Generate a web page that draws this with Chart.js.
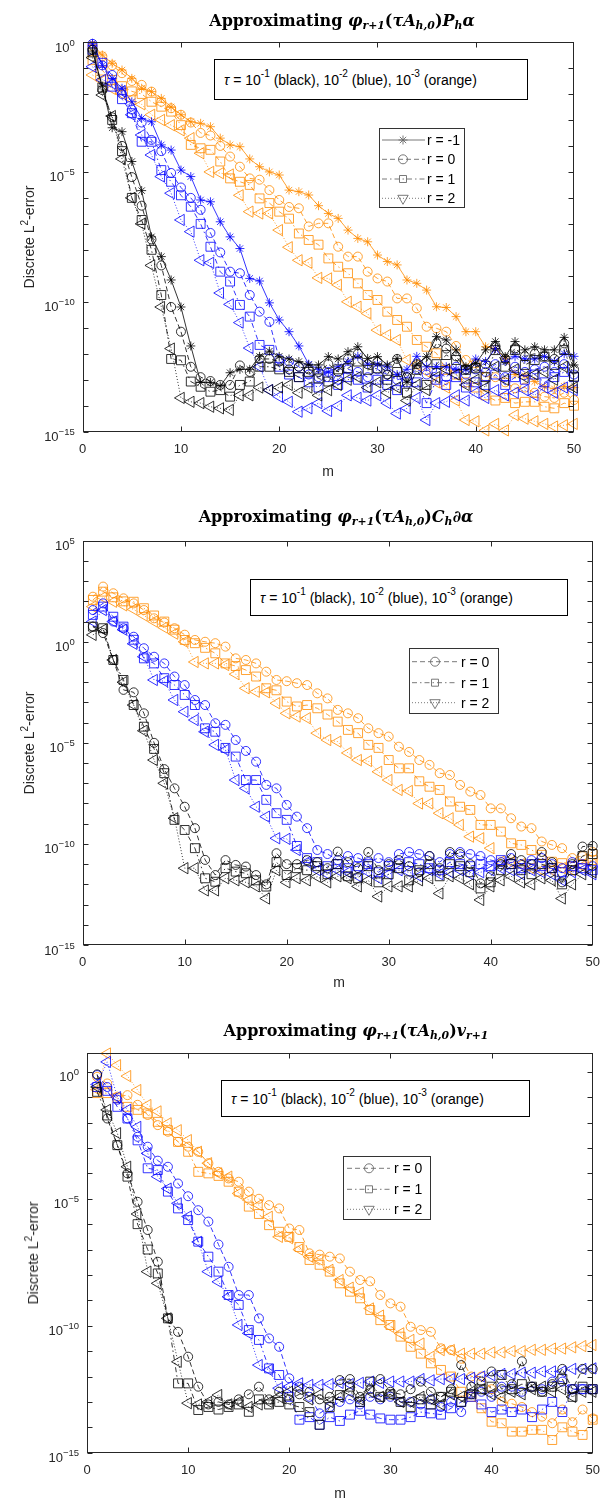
<!DOCTYPE html>
<html>
<head>
<meta charset="utf-8">
<script src="https://cdn.jsdelivr.net/npm/chart.js@4.4.1/dist/chart.umd.min.js"></script>
<style>
  body { margin: 0; background: #fff; width: 600px; height: 1501px; position: relative; overflow: hidden;
         font-family: "Liberation Sans", Arial, sans-serif; color: #262626; }
  canvas { position: absolute; left: 0; }
  .ttl { position: absolute; width: 600px; text-align: center; white-space: nowrap; color: #000;
         font: bold 16px "DejaVu Serif", serif; line-height: 18px; }
  .ylab { position: absolute; font-size: 14px; white-space: nowrap; transform: translate(-50%, -50%) rotate(-90deg); }
  .xlab { position: absolute; font-size: 14px; transform: translate(-50%, -50%); }
  .note { position: absolute; box-sizing: border-box; border: 1px solid #000; background: #fff; color: #000;
          font-size: 14px; display: flex; align-items: center; padding-left: 9px; white-space: nowrap; }
  sup { font-size: 0.72em; vertical-align: 0; position: relative; top: -0.55em; line-height: 0; }
  sub { font-size: 0.68em; vertical-align: 0; position: relative; top: 0.3em; line-height: 0; }
</style>
</head>
<body>
<canvas id="c1" width="600" height="500" style="top:0"></canvas>
<canvas id="c2" width="600" height="500" style="top:500px"></canvas>
<canvas id="c3" width="600" height="501" style="top:1000px"></canvas>

<div class="ttl" style="top:12px;left:42px">Approximating <i>φ<sub>r+1</sub></i>(<i>τA<sub>h,0</sub></i>)<i>P<sub>h</sub>α</i></div>
<div class="ttl" style="top:508px;left:36px">Approximating <i>φ<sub>r+1</sub></i>(<i>τA<sub>h,0</sub></i>)<i>C<sub>h</sub>∂α</i></div>
<div class="ttl" style="top:1022px;left:56px">Approximating <i>φ<sub>r+1</sub></i>(<i>τA<sub>h,0</sub></i>)<i>v<sub>r+1</sub></i></div>

<div class="note" style="left:214px;top:59px;width:314px;height:41px"><i>τ</i>&nbsp;= 10<sup>-1</sup>&nbsp;(black), 10<sup>-2</sup>&nbsp;(blue), 10<sup>-3</sup>&nbsp;(orange)</div>
<div class="note" style="left:250px;top:579px;width:318px;height:37px"><i>τ</i>&nbsp;= 10<sup>-1</sup>&nbsp;(black), 10<sup>-2</sup>&nbsp;(blue), 10<sup>-3</sup>&nbsp;(orange)</div>
<div class="note" style="left:221px;top:1080px;width:309px;height:37px"><i>τ</i>&nbsp;= 10<sup>-1</sup>&nbsp;(black), 10<sup>-2</sup>&nbsp;(blue), 10<sup>-3</sup>&nbsp;(orange)</div>

<div class="ylab" style="left:29px;top:237px">Discrete L<sup>2</sup>-error</div>
<div class="ylab" style="left:29px;top:743px">Discrete L<sup>2</sup>-error</div>
<div class="ylab" style="left:33px;top:1253px">Discrete L<sup>2</sup>-error</div>

<div class="xlab" style="left:328px;top:471px">m</div>
<div class="xlab" style="left:339px;top:982px">m</div>
<div class="xlab" style="left:340px;top:1493px">m</div>

<script>
// x: number of Krylov steps m
const m = [1, 2, 3, 4, 5, 6, 7, 8, 9, 10, 11, 12, 13, 14, 15, 16, 17, 18, 19, 20,
           21, 22, 23, 24, 25, 26, 27, 28, 29, 30, 31, 32, 33, 34, 35, 36, 37, 38, 39, 40,
           41, 42, 43, 44, 45, 46, 47, 48, 49, 50];

// all series below are log10 of the discrete L2-error
// ===== panel 1 : P_h alpha =====
const p1_black_rm1 = [-0.35, -1.7, -3.3, -3.45, -4.6, -5.72, -7.5, -8.26, -9.16, -10.2,
  -11.7, -13.1, -13.1, -13.24, -12.73, -12.6, -12.6, -12.1, -11.9, -12.1,
  -12.2, -12.3, -12.43, -12.43, -12.11, -12.2, -11.92, -11.73, -12.18, -12.11,
  -12.43, -12.18, -13.1, -12.4, -12.11, -11.34, -11.47, -11.85, -12.5, -12.37,
  -11.85, -11.53, -12.11, -11.53, -11.85, -11.73, -11.85, -11.85, -11.37, -12.43];
const p1_black_r0 = [-0.3, -1.85, -2.9, -4.0, -5.2, -6.3, -7.6, -8.6, -10.2, -11.15,
  -12.5, -12.9, -13.05, -13.2, -13.2, -12.45, -12.7, -12.2, -12.2, -12.3,
  -12.6, -12.5, -12.6, -12.7, -12.4, -12.7, -12.2, -12.0, -12.4, -12.3,
  -12.8, -12.2, -12.9, -12.4, -12.3, -11.6, -11.8, -12.1, -12.6, -12.5,
  -12.4, -11.7, -12.2, -11.8, -12.1, -12.0, -12.1, -12.2, -11.6, -12.6];
const p1_black_r1 = [-0.4, -1.75, -3.0, -4.2, -6.0, -6.85, -8.0, -9.74, -12.2, -12.25,
  -13.07, -13.27, -13.46, -13.4, -13.65, -13.2, -13.07, -12.5, -12.5, -12.6,
  -12.7, -12.9, -12.7, -12.95, -13.07, -12.6, -12.56, -12.3, -12.62, -12.56,
  -13.0, -12.7, -13.5, -12.62, -13.2, -12.4, -12.05, -12.24, -12.62, -12.56,
  -12.9, -11.86, -12.5, -11.86, -12.43, -12.24, -12.11, -12.43, -11.86, -12.88];
const p1_black_r2 = [-0.6, -2.04, -2.85, -4.5, -6.0, -7.0, -8.6, -10.2, -11.8, -13.7,
  -13.85, -13.9, -14.04, -14.1, -14.16, -13.6, -13.6, -13.3, -13.4, -13.3,
  -13.2, -13.5, -13.3, -13.6, -13.4, -13.2, -13.0, -12.9, -13.3, -13.1,
  -13.5, -13.3, -13.8, -13.2, -13.4, -12.9, -12.6, -12.8, -13.2, -13.0,
  -13.3, -12.5, -13.0, -12.6, -12.9, -12.8, -12.7, -13.0, -12.5, -13.3];
const p1_blue_rm1 = [-0.05, -0.9, -1.4, -1.78, -2.3, -2.94, -3.07, -3.96, -4.16, -4.93,
  -5.18, -6.08, -6.15, -6.92, -7.5, -7.95, -9.1, -9.2, -10.04, -10.7,
  -11.15, -11.7, -12.4, -12.6, -12.7, -12.5, -12.3, -12.1, -12.4, -12.4,
  -12.5, -12.8, -12.6, -12.1, -12.5, -12.5, -12.5, -12.6, -12.6, -12.2,
  -12.3, -11.8, -12.3, -12.1, -12.2, -12.2, -12.1, -12.3, -12.0, -12.1];
const p1_blue_r0 = [-0.07, -0.9, -1.27, -2.0, -2.6, -3.1, -3.77, -4.2, -5.04, -5.6,
  -6.0, -6.46, -7.35, -8.1, -8.84, -8.9, -9.74, -10.38, -10.77, -12.2,
  -12.3, -12.5, -12.8, -12.9, -12.7, -13.0, -12.6, -12.7, -12.9, -12.6,
  -12.8, -13.0, -12.9, -12.6, -12.8, -12.7, -12.9, -12.5, -12.8, -12.6,
  -12.7, -12.4, -12.9, -12.5, -12.7, -12.6, -12.5, -12.7, -12.4, -12.8];
const p1_blue_r1 = [-0.3, -0.8, -1.72, -2.2, -2.74, -3.84, -3.84, -4.93, -5.38, -5.9,
  -6.34, -7.0, -7.88, -8.84, -9.22, -10.12, -10.57, -11.66, -11.85, -12.5,
  -12.8, -12.9, -13.1, -13.3, -12.9, -13.2, -12.9, -13.0, -13.3, -13.0,
  -13.2, -13.4, -13.1, -13.1, -13.9, -13.0, -13.2, -12.9, -13.3, -13.1,
  -13.2, -12.8, -13.2, -12.9, -13.0, -12.8, -13.1, -12.9, -12.7, -12.9];
const p1_blue_r2 = [-0.95, -1.46, -1.6, -1.9, -2.8, -3.58, -4.35, -5.18, -5.82, -6.85,
  -7.3, -8.4, -8.5, -9.66, -10.1, -10.8, -11.78, -12.5, -13.4, -13.65,
  -13.85, -14.23, -14.1, -13.9, -14.2, -14.0, -13.6, -13.7, -13.8, -13.6,
  -13.9, -14.3, -14.1, -13.7, -14.55, -13.9, -13.85, -13.6, -13.8, -13.5,
  -13.7, -13.4, -13.6, -13.5, -13.4, -13.6, -13.3, -13.5, -13.3, -13.4];
const p1_orange_rm1 = [-0.1, -0.5, -0.82, -1.08, -1.4, -1.78, -1.91, -2.17, -2.5, -2.8,
  -3.07, -3.13, -3.26, -3.7, -3.96, -4.03, -4.5, -4.8, -5.0, -5.12,
  -5.7, -5.76, -5.89, -6.3, -6.6, -6.79, -7.24, -7.56, -7.69, -8.2,
  -8.45, -8.58, -9.16, -9.29, -9.55, -10.19, -10.22, -10.57, -11.15, -11.15,
  -11.73, -11.8, -12.17, -12.8, -12.85, -13.07, -13.27, -13.35, -13.25, -13.3];
const p1_orange_r0 = [-0.15, -0.55, -0.9, -1.2, -1.5, -1.65, -1.91, -2.3, -2.55, -2.8,
  -3.1, -3.5, -3.6, -4.0, -4.41, -4.8, -5.25, -5.3, -5.7, -6.08,
  -6.35, -6.4, -7.1, -6.98, -6.98, -7.88, -8.26, -8.26, -8.84, -9.1,
  -9.22, -9.87, -9.87, -10.25, -10.96, -11.02, -11.15, -11.7, -12.24, -12.37,
  -12.88, -12.9, -13.1, -13.33, -13.3, -13.5, -13.65, -13.7, -13.5, -13.78];
const p1_orange_r1 = [-0.7, -1.1, -1.46, -1.7, -1.9, -2.0, -2.3, -2.49, -2.68, -3.2,
  -3.96, -4.09, -4.15, -4.6, -5.25, -5.38, -5.5, -6.02, -6.2, -6.53,
  -6.8, -7.37, -7.62, -7.8, -8.33, -8.65, -8.9, -9.29, -9.74, -9.93,
  -10.38, -10.7, -10.96, -11.47, -11.73, -11.98, -12.62, -12.8, -13.1, -13.3,
  -13.6, -13.8, -13.7, -13.9, -13.85, -13.85, -14.04, -14.1, -13.9, -14.0];
const p1_orange_r2 = [-1.27, -1.5, -1.8, -2.0, -2.2, -2.4, -2.8, -3.0, -3.2, -3.4,
  -3.7, -4.28, -5.0, -5.05, -5.1, -5.9, -6.53, -6.6, -6.6, -7.24,
  -7.9, -8.4, -8.5, -9.08, -9.1, -9.35, -10.0, -10.19, -10.45, -11.09,
  -11.28, -11.47, -12.24, -12.43, -12.69, -13.1, -13.3, -13.8, -14.55, -14.6,
  -14.95, -14.7, -14.95, -14.36, -14.5, -14.6, -14.7, -14.8, -14.75, -14.7];

// ===== panel 2 : C_h d alpha =====
const p2_black_r0 = [0.75, 0.43, -0.9, -2.38, -2.5, -3.54, -5.0, -6.3, -7.25, -8.16,
  -9.22, -10.79, -11.54, -10.8, -11.04, -11.12, -11.54, -12.0, -10.46, -11.0,
  -11.0, -10.8, -10.9, -11.2, -10.38, -10.9, -11.2, -10.4, -11.3, -11.0,
  -10.8, -11.1, -11.4, -10.6, -11.2, -10.4, -10.5, -11.0, -11.95, -11.6,
  -11.0, -10.5, -10.8, -11.0, -10.4, -10.9, -11.9, -11.0, -10.13, -10.1];
const p2_black_r1 = [0.75, 0.67, -0.9, -1.89, -3.13, -4.2, -5.3, -6.5, -8.81, -9.31,
  -10.21, -11.7, -11.87, -11.2, -11.37, -11.45, -11.8, -12.11, -10.9, -11.54,
  -11.2, -11.3, -11.1, -11.5, -11.0, -11.6, -11.7, -11.1, -11.9, -11.5,
  -11.2, -11.8, -11.3, -11.0, -11.6, -11.0, -11.1, -11.4, -12.2, -11.9,
  -11.3, -11.0, -11.3, -11.5, -11.0, -11.2, -12.0, -11.3, -10.6, -10.5];
const p2_black_r2 = [0.34, 0.6, -0.9, -2.0, -3.13, -4.4, -5.85, -7.0, -8.73, -11.2,
  -11.2, -12.3, -12.3, -11.7, -11.8, -11.9, -12.1, -12.7, -11.3, -11.9,
  -11.7, -11.8, -11.62, -11.9, -11.6, -11.7, -12.1, -11.8, -12.6, -12.1,
  -12.1, -12.1, -11.8, -11.7, -12.45, -11.6, -11.7, -12.0, -12.77, -12.1,
  -11.8, -11.6, -11.9, -12.0, -11.7, -11.8, -12.7, -12.0, -11.5, -11.4];
const p2_blue_r0 = [1.57, 1.9, 1.0, 0.67, 0.25, -0.32, -0.74, -1.07, -1.72, -2.14,
  -2.88, -3.13, -4.03, -4.11, -4.86, -5.4, -5.93, -7.08, -7.25, -8.07,
  -8.65, -9.22, -10.3, -10.5, -10.8, -10.6, -10.7, -10.9, -10.7, -10.9,
  -10.5, -10.4, -10.5, -10.6, -10.9, -10.5, -10.4, -10.5, -10.6, -10.8,
  -10.9, -10.7, -11.0, -10.8, -10.7, -11.0, -11.2, -10.9, -11.0, -11.1];
const p2_blue_r1 = [1.33, 1.74, 1.24, 0.75, 0.1, -0.82, -1.07, -1.8, -2.14, -2.63,
  -3.13, -4.28, -4.45, -5.25, -5.68, -6.84, -6.84, -7.82, -8.48, -8.81,
  -10.1, -10.7, -10.9, -11.1, -11.0, -11.2, -11.1, -11.0, -11.4, -11.1,
  -11.0, -10.9, -11.0, -11.2, -11.3, -10.9, -11.0, -11.1, -11.0, -11.1,
  -10.8, -11.0, -11.2, -11.0, -11.1, -11.2, -11.4, -11.1, -11.2, -11.3];
const p2_blue_r2 = [1.0, 1.57, 1.0, 0.6, -0.1, -0.74, -1.89, -1.95, -2.88, -3.46,
  -3.87, -4.45, -5.1, -5.35, -6.84, -7.25, -8.16, -8.65, -9.72, -9.75,
  -10.3, -10.9, -11.3, -11.5, -11.3, -11.4, -11.6, -11.4, -11.7, -11.5,
  -11.3, -11.4, -11.6, -11.3, -11.5, -11.4, -11.3, -11.5, -11.4, -11.3,
  -11.2, -11.3, -11.5, -11.3, -11.4, -11.5, -11.8, -11.4, -11.3, -11.5];
const p2_orange_r0 = [2.23, 2.73, 2.4, 2.15, 1.9, 1.57, 1.16, 0.95, 0.67, 0.35,
  0.09, 0.0, -0.07, -0.24, -0.82, -0.9, -1.07, -1.48, -1.89, -1.95,
  -2.05, -2.14, -2.55, -2.8, -3.37, -3.54, -3.78, -4.28, -4.52, -4.69,
  -5.19, -5.45, -5.85, -6.09, -6.5, -6.59, -7.08, -7.41, -7.58, -8.24,
  -8.24, -8.73, -9.14, -9.22, -9.88, -10.05, -10.21, -10.7, -10.6, -10.4];
const p2_orange_r1 = [2.07, 2.48, 2.2, 2.0, 1.98, 1.66, 1.3, 1.0, 0.6, 0.09,
  -0.07, -0.3, -0.57, -1.07, -1.2, -1.4, -1.72, -2.3, -2.4, -2.96,
  -3.2, -3.13, -3.29, -3.6, -3.95, -4.36, -4.52, -5.1, -5.25, -5.85,
  -6.26, -6.26, -6.9, -7.17, -7.33, -7.9, -8.16, -8.32, -9.06, -9.06,
  -9.39, -9.97, -10.05, -10.3, -10.54, -10.88, -10.95, -11.12, -11.0, -10.8];
const p2_orange_r2 = [1.74, 2.2, 1.98, 1.8, 1.6, 1.3, 1.0, 0.7, 0.4, 0.0,
  -1.0, -1.07, -1.07, -1.15, -1.6, -2.3, -2.47, -2.5, -3.04, -3.54,
  -3.7, -3.78, -4.52, -4.86, -4.94, -5.5, -5.85, -5.9, -6.43, -6.84,
  -7.33, -7.38, -8.0, -8.0, -8.48, -8.73, -9.06, -9.64, -9.72, -10.21,
  -10.88, -10.9, -11.0, -11.2, -11.3, -11.3, -11.2, -11.3, -11.1, -11.0];

// ===== panel 3 : v_{r+1} =====
const p3_black_r0 = [-0.1, -1.84, -2.89, -4.0, -5.12, -6.23, -7.48, -9.71, -10.24, -11.22,
  -12.4, -13.1, -13.0, -13.1, -12.9, -12.7, -12.4, -12.9, -12.6, -12.9,
  -12.7, -12.6, -12.9, -12.8, -12.14, -12.1, -12.8, -12.5, -12.1, -12.6,
  -12.7, -12.5, -12.2, -12.6, -12.8, -12.5, -11.55, -12.4, -12.2, -11.8,
  -12.5, -12.3, -11.4, -12.4, -12.6, -12.3, -11.7, -12.5, -11.7, -11.7];
const p3_black_r1 = [-0.79, -1.72, -2.89, -4.13, -6.0, -7.0, -7.94, -9.71, -12.27, -12.27,
  -13.32, -13.2, -13.3, -13.2, -13.1, -13.39, -12.9, -13.1, -13.0, -13.1,
  -13.2, -13.4, -13.9, -13.2, -12.73, -12.4, -13.0, -12.2, -12.8, -12.7,
  -13.0, -13.2, -12.9, -13.1, -12.8, -12.6, -13.0, -12.7, -12.5, -12.4,
  -11.94, -12.5, -12.3, -12.4, -12.6, -12.4, -12.1, -12.8, -12.4, -12.5];
const p3_black_r2 = [-0.6, -1.5, -2.42, -3.74, -5.6, -7.87, -8.33, -9.71, -11.42, -13.05,
  -13.1, -13.0, -12.73, -13.1, -13.0, -13.2, -13.1, -13.0, -12.8, -12.6,
  -12.5, -12.9, -12.7, -13.0, -12.8, -12.6, -12.9, -12.6, -12.8, -12.7,
  -13.0, -13.0, -12.8, -12.9, -13.1, -12.7, -12.8, -12.6, -12.5, -12.7,
  -12.8, -12.6, -12.7, -12.5, -12.4, -12.6, -12.5, -12.8, -12.6, -12.6];
const p3_blue_r0 = [-0.13, -0.6, -1.1, -1.84, -2.56, -2.95, -3.5, -3.74, -4.4, -4.9,
  -5.45, -5.9, -6.8, -7.68, -8.79, -8.79, -9.71, -10.5, -10.83, -12.07,
  -12.4, -12.8, -13.45, -13.2, -13.0, -12.9, -13.1, -12.8, -12.9, -12.8,
  -13.0, -13.0, -13.1, -12.9, -13.2, -13.0, -13.4, -12.7, -12.6, -12.8,
  -12.4, -12.4, -12.6, -12.4, -12.5, -12.2, -12.2, -12.5, -12.5, -12.5];
const p3_blue_r1 = [-0.6, -0.75, -1.38, -1.84, -2.7, -3.8, -3.87, -4.72, -5.38, -5.84,
  -6.69, -7.28, -7.87, -8.79, -9.18, -10.17, -10.56, -11.68, -11.94, -12.8,
  -13.7, -13.6, -13.9, -13.6, -13.75, -13.5, -13.35, -13.5, -13.65, -13.7,
  -13.7, -13.6, -13.4, -13.45, -13.5, -13.25, -13.0, -12.8, -13.1, -13.4,
  -13.3, -13.4, -13.3, -13.6, -13.3, -13.0, -13.4, -12.5, -12.5, -12.5];
const p3_blue_r2 = [-0.5, 0.39, -1.0, -1.5, -2.17, -3.21, -4.13, -4.6, -5.18, -5.7,
  -6.7, -7.87, -8.27, -8.86, -9.97, -10.3, -11.55, -11.74, -12.46, -12.4,
  -12.27, -12.33, -12.33, -12.3, -12.25, -12.3, -12.25, -12.2, -12.25, -12.2,
  -12.2, -12.2, -12.1, -12.15, -12.1, -12.1, -12.1, -12.05, -12.0, -11.95,
  -11.9, -11.9, -11.85, -11.85, -11.8, -11.8, -11.8, -11.7, -11.7, -11.68];
const p3_orange_r0 = [-0.2, -0.46, -0.98, -0.92, -1.3, -1.7, -2.1, -2.36, -2.76, -2.95,
  -3.15, -3.6, -3.94, -4.2, -4.33, -4.72, -5.0, -5.25, -5.38, -6.17,
  -6.23, -7.15, -7.2, -7.28, -7.35, -7.87, -8.2, -8.25, -8.79, -9.12,
  -9.25, -10.04, -10.17, -10.24, -10.89, -10.96, -11.3, -12.0, -12.0, -12.5,
  -13.0, -13.07, -13.2, -13.4, -13.58, -13.84, -13.3, -13.8, -13.3, -13.65];
const p3_orange_r1 = [-0.84, -0.84, -1.04, -1.38, -1.5, -1.64, -1.97, -2.3, -2.76, -3.15,
  -3.94, -4.0, -4.1, -4.33, -4.72, -5.31, -5.6, -6.04, -6.3, -6.5,
  -6.9, -7.41, -7.6, -7.87, -8.33, -8.66, -8.92, -9.38, -9.78, -9.97,
  -10.43, -10.83, -11.1, -11.48, -11.74, -12.0, -12.6, -12.8, -13.25, -13.78,
  -13.84, -14.17, -14.17, -14.1, -14.1, -14.5, -14.0, -14.17, -14.3, -13.7];
const p3_orange_r2 = [-0.7, 0.72, 0.26, -0.17, -0.72, -1.31, -1.56, -2.03, -2.3, -2.69,
  -3.15, -3.6, -4.0, -4.13, -4.79, -5.05, -5.25, -5.71, -6.5, -6.55,
  -7.0, -7.28, -7.4, -7.8, -8.2, -8.5, -8.7, -9.32, -9.6, -10.04,
  -10.3, -10.56, -10.7, -11.22, -10.96, -10.96, -11.1, -11.1, -11.1, -11.05,
  -11.05, -11.0, -11.0, -10.95, -10.95, -10.9, -10.9, -10.85, -10.8, -10.76];

// ----- styles -----
const colors = { black: '#000000', blue: '#0000ff', orange: '#ff8c00' };
const rStyle = {
  '-1': { point: 'star', radius: 4.5, rot: 0, dash: [] },
  '0':  { point: 'circle', radius: 4.5, rot: 0, dash: [5, 3] },
  '1':  { point: 'rect', radius: 6.3, rot: 0, dash: [5, 3, 1.5, 3] },
  '2':  { point: 'triangle', radius: 6.5, rot: -90, dash: [1, 2] }
};

function makeSet(vals, col, r) {
  const s = rStyle[r];
  return {
    data: vals.map((e, i) => ({ x: m[i], y: Math.pow(10, e) })),
    borderColor: colors[col],
    borderWidth: 0.8,
    borderDash: s.dash,
    pointStyle: s.point,
    pointRadius: s.radius,
    pointRotation: s.rot,
    pointBorderColor: colors[col],
    pointBackgroundColor: 'rgba(0,0,0,0)',
    pointBorderWidth: 0.8,
    tension: 0,
    clip: 10
  };
}

// small marker painter for the legend
function legendMarker(ctx, kind, x, y) {
  ctx.beginPath();
  if (kind === 'star') {
    const r = 4.5, d = r * Math.SQRT1_2;
    ctx.moveTo(x - r, y); ctx.lineTo(x + r, y);
    ctx.moveTo(x, y - r); ctx.lineTo(x, y + r);
    ctx.moveTo(x - d, y - d); ctx.lineTo(x + d, y + d);
    ctx.moveTo(x - d, y + d); ctx.lineTo(x + d, y - d);
  } else if (kind === 'circle') {
    ctx.arc(x, y, 4.5, 0, Math.PI * 2);
  } else if (kind === 'rect') {
    ctx.rect(x - 3.5, y - 3.5, 7, 7);
  } else {
    // legend shows a down-pointing triangle
    const r = 6;
    ctx.moveTo(x - r * 0.866, y - r * 0.5);
    ctx.lineTo(x + r * 0.866, y - r * 0.5);
    ctx.lineTo(x, y + r);
    ctx.closePath();
  }
  ctx.stroke();
}

const matlabAxes = {
  id: 'matlabAxes',
  afterDraw(chart, args, o) {
    const { ctx, chartArea: a, scales: { x, y } } = chart;
    ctx.save();
    ctx.strokeStyle = '#262626';
    ctx.lineWidth = 1;
    ctx.setLineDash([]);
    const L = Math.round(a.left) + 0.5, R = Math.round(a.right) - 0.5;
    const T = Math.round(a.top) + 0.5, B = Math.round(a.bottom) - 0.5;
    ctx.strokeRect(L, T, R - L, B - T);
    ctx.beginPath();
    for (let k = o.lo; k <= Math.floor(o.hi); k++) {
      const py = Math.round(y.getPixelForValue(Math.pow(10, k))) + 0.5;
      ctx.moveTo(L, py); ctx.lineTo(L + 5, py);
      ctx.moveTo(R, py); ctx.lineTo(R - 5, py);
    }
    for (const t of [10, 20, 30, 40]) {
      const px = Math.round(x.getPixelForValue(t)) + 0.5;
      ctx.moveTo(px, B); ctx.lineTo(px, B - 5);
      ctx.moveTo(px, T); ctx.lineTo(px, T + 5);
    }
    ctx.stroke();

    // y tick labels 10^k
    ctx.fillStyle = '#262626';
    ctx.textBaseline = 'alphabetic';
    for (const k of o.labels) {
      const py = y.getPixelForValue(Math.pow(10, k));
      const sup = k < 0 ? '\u2212' + (-k) : String(k);
      ctx.font = '9.5px "Liberation Sans", Arial, sans-serif';
      const ws = ctx.measureText(sup).width;
      const right = a.left - 8;
      ctx.textAlign = 'left';
      ctx.fillText(sup, right - ws, py + 3.5);
      ctx.font = '13px "Liberation Sans", Arial, sans-serif';
      ctx.textAlign = 'right';
      ctx.fillText('10', right - ws, py + 9.5);
    }

    // legend
    const lg = o.legend;
    ctx.fillStyle = '#fff';
    ctx.fillRect(lg.x0, lg.y0, lg.x1 - lg.x0, lg.y1 - lg.y0);
    ctx.strokeStyle = '#333';
    ctx.strokeRect(Math.round(lg.x0) + 0.5, Math.round(lg.y0) + 0.5, Math.round(lg.x1 - lg.x0), Math.round(lg.y1 - lg.y0));
    o.rs.forEach((r, i) => {
      const s = rStyle[r], yy = lg.rows[i];
      ctx.strokeStyle = '#6a6a6a';
      ctx.lineWidth = 0.9;
      ctx.setLineDash(s.dash);
      ctx.beginPath(); ctx.moveTo(lg.lx0, yy); ctx.lineTo(lg.lx1, yy); ctx.stroke();
      ctx.setLineDash([]);
      ctx.fillStyle = '#fff';
      legendMarker(ctx, s.point, lg.mk, yy);
      ctx.fillStyle = '#000';
      ctx.font = '14px "Liberation Sans", Arial, sans-serif';
      ctx.textAlign = 'left';
      ctx.textBaseline = 'middle';
      ctx.fillText('r = ' + r, lg.tx, yy + 1);
    });
    ctx.restore();
  }
};

function build(id, h, area, lo, hi, labels, sets, rs, legend) {
  new Chart(document.getElementById(id), {
    type: 'line',
    data: { datasets: sets },
    options: {
      responsive: false,
      animation: false,
      events: [],
      layout: { padding: { left: area.l, right: 600 - area.r, top: area.t, bottom: h - area.b - 30 } },
      plugins: { legend: { display: false }, tooltip: { enabled: false },
                 matlabAxes: { lo: lo, hi: hi, labels: labels, rs: rs, legend: legend } },
      scales: {
        x: {
          type: 'linear', min: 0, max: 50,
          grid: { display: false, drawTicks: false }, border: { display: false },
          ticks: { stepSize: 10, padding: 10, color: '#262626', maxRotation: 0,
                   font: { family: '"Liberation Sans", Arial, sans-serif', size: 13 } },
          afterFit(s) { s.height = 30; s.paddingLeft = 0; s.paddingRight = 0; }
        },
        y: {
          type: 'logarithmic', min: Math.pow(10, lo), max: Math.pow(10, hi),
          grid: { display: false, drawTicks: false }, border: { display: false },
          ticks: { display: false },
          afterFit(s) { s.width = 0; s.paddingTop = 0; s.paddingBottom = 0; }
        }
      }
    },
    plugins: [matlabAxes]
  });
}

build('c1', 500, { l: 82.7, r: 574, t: 42, b: 431.7 }, -15, 0, [0, -5, -10, -15], [
  makeSet(p1_black_rm1, 'black', '-1'), makeSet(p1_black_r0, 'black', '0'),
  makeSet(p1_black_r1, 'black', '1'), makeSet(p1_black_r2, 'black', '2'),
  makeSet(p1_blue_rm1, 'blue', '-1'), makeSet(p1_blue_r0, 'blue', '0'),
  makeSet(p1_blue_r1, 'blue', '1'), makeSet(p1_blue_r2, 'blue', '2'),
  makeSet(p1_orange_rm1, 'orange', '-1'), makeSet(p1_orange_r0, 'orange', '0'),
  makeSet(p1_orange_r1, 'orange', '1'), makeSet(p1_orange_r2, 'orange', '2')
], ['-1', '0', '1', '2'],
{ x0: 379, x1: 464, y0: 128, y1: 207, rows: [140, 159.3, 179, 198.3], lx0: 382, lx1: 425, mk: 403, tx: 427 });

build('c2', 500, { l: 82.7, r: 595, t: 40.7, b: 445 }, -15, 5, [5, 0, -5, -10, -15], [
  makeSet(p2_black_r0, 'black', '0'), makeSet(p2_black_r1, 'black', '1'), makeSet(p2_black_r2, 'black', '2'),
  makeSet(p2_blue_r0, 'blue', '0'), makeSet(p2_blue_r1, 'blue', '1'), makeSet(p2_blue_r2, 'blue', '2'),
  makeSet(p2_orange_r0, 'orange', '0'), makeSet(p2_orange_r1, 'orange', '1'), makeSet(p2_orange_r2, 'orange', '2')
], ['0', '1', '2'],
{ x0: 409, x1: 498, y0: 148, y1: 213, rows: [161.7, 182.7, 202.7], lx0: 412, lx1: 457, mk: 435, tx: 461 });

build('c3', 501, { l: 87, r: 593, t: 53, b: 452.7 }, -15, 0.74, [0, -5, -10, -15], [
  makeSet(p3_black_r0, 'black', '0'), makeSet(p3_black_r1, 'black', '1'), makeSet(p3_black_r2, 'black', '2'),
  makeSet(p3_blue_r0, 'blue', '0'), makeSet(p3_blue_r1, 'blue', '1'), makeSet(p3_blue_r2, 'blue', '2'),
  makeSet(p3_orange_r0, 'orange', '0'), makeSet(p3_orange_r1, 'orange', '1'), makeSet(p3_orange_r2, 'orange', '2')
], ['0', '1', '2'],
{ x0: 343, x1: 430, y0: 156, y1: 219, rows: [168.3, 189.3, 209.3], lx0: 347, lx1: 390, mk: 369, tx: 394 });
</script>
</body>
</html>
